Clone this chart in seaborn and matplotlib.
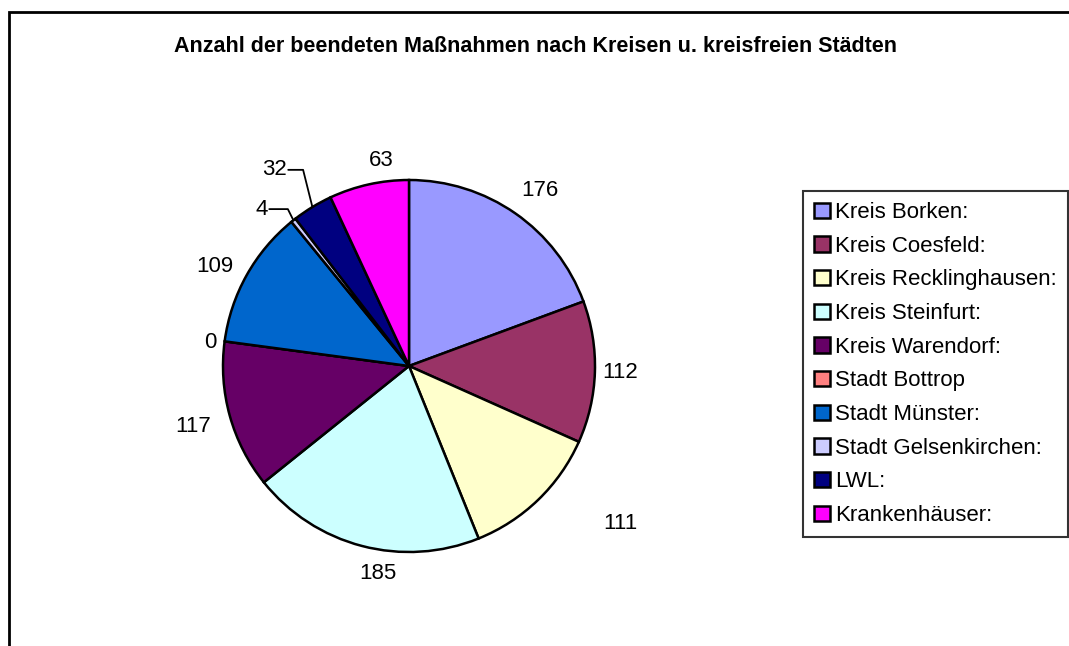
import numpy as np
import seaborn as sns
import matplotlib.pyplot as plt
from matplotlib.patches import Rectangle

# data
categories = ["Kreis Borken:", "Kreis Coesfeld:", "Kreis Recklinghausen:", "Kreis Steinfurt:",
              "Kreis Warendorf:", "Stadt Bottrop", "Stadt Münster:", "Stadt Gelsenkirchen:",
              "LWL:", "Krankenhäuser:"]
values = [176, 112, 111, 185, 117, 0, 109, 4, 32, 63]
colors = ["#9999FF", "#993366", "#FFFFCC", "#CCFFFF", "#660066",
          "#FF8080", "#0066CC", "#CCCCFF", "#000080", "#FF00FF"]
title = "Anzahl der beendeten Maßnahmen nach Kreisen u. kreisfreien Städten"

sns.set_theme(style="white")
plt.rcParams['font.family'] = ['Liberation Sans', 'DejaVu Sans']
plt.rcParams['text.color'] = 'black'

W, H = 1069, 646
fig = plt.figure(figsize=(W / 100, H / 100), dpi=100)

# pie axes: centre (409, 366) px, radius 186 px
cx, cy, r = 409, 366, 186
ax = fig.add_axes([(cx - r) / W, (H - cy - r) / H, 2 * r / W, 2 * r / H])

# small slices get leader lines instead of plain labels
leader = {"Stadt Gelsenkirchen:", "LWL:"}
pie_labels = ["" if c in leader else str(v) for c, v in zip(categories, values)]

wedges, texts = ax.pie(values, labels=pie_labels, colors=sns.color_palette(colors),
                       startangle=90, counterclock=False, labeldistance=1.1,
                       wedgeprops=dict(edgecolor="black", linewidth=1.8),
                       textprops=dict(fontsize=16, color="black"))
ax.set_xlim(-1, 1)
ax.set_ylim(-1, 1)

# pixel nudges so the labels sit where Excel put them
nudge = {"Kreis Borken:": (-5, 8), "Kreis Coesfeld:": (-11, 0),
         "Kreis Recklinghausen:": (52, -10), "Kreis Steinfurt:": (39, -10),
         "Kreis Warendorf:": (-1, -6), "Stadt Bottrop": (10, -4),
         "Stadt Münster:": (3, 0), "Krankenhäuser:": (29, 6)}
for t, c in zip(texts, categories):
    if c in nudge:
        x, y = t.get_position()
        t.set_position((x + nudge[c][0] / r, y + nudge[c][1] / r))

# leader lines for the thin slices
offsets = {"Stadt Gelsenkirchen:": (-0.03, 0.06, -0.10),
           "LWL:": (-0.05, 0.20, -0.08)}
for w, c, v in zip(wedges, categories, values):
    if c not in leader:
        continue
    ang = np.deg2rad((w.theta1 + w.theta2) / 2)
    ex, ey = np.cos(ang), np.sin(ang)
    dx, dy, hx = offsets[c]
    elx, ely = ex + dx, ey + dy
    tx = elx + hx
    ax.plot([ex, elx, tx], [ey, ely, ely], color="black", lw=1.3, clip_on=False)
    ax.text(tx - 0.01, ely, str(v), ha="right", va="center", fontsize=16, color="black")

fig.text(535 / W, 1 - 47 / H, title, ha="center", va="center",
         fontsize=15.5, fontweight="bold", color="black")

leg = fig.legend(wedges, categories, loc="upper right",
                 bbox_to_anchor=(1068 / W, 1 - 191 / H), frameon=True,
                 fancybox=False, edgecolor="black", fontsize=16,
                 handlelength=0.7, handleheight=0.7, handletextpad=0.25,
                 labelspacing=0.57, borderpad=0.5, borderaxespad=0,
                 labelcolor="black")
leg.get_frame().set_linewidth(1.5)
for h in leg.legend_handles:
    h.set_edgecolor("black")
    h.set_linewidth(1.8)

# outer chart frame
fig.add_artist(Rectangle((9 / W, -0.1), 1.2, 1.1 - 12 / H, transform=fig.transFigure,
                         fill=False, edgecolor="black", linewidth=2))

fig.savefig("out.png", dpi=100)
